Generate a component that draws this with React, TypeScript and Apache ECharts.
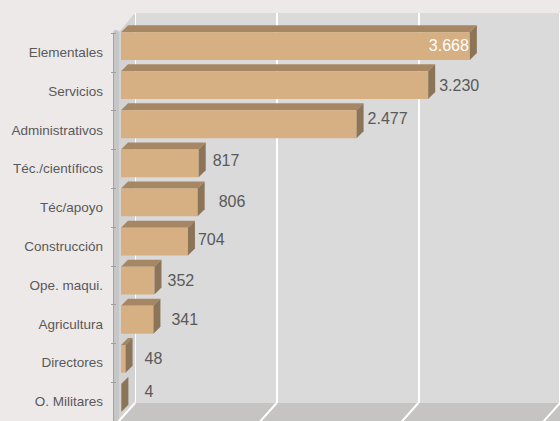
import React, { useEffect, useRef } from "react";
import * as echarts from "echarts";

const categories = [
  "Elementales",
  "Servicios",
  "Administrativos",
  "Téc./científicos",
  "Téc/apoyo",
  "Construcción",
  "Ope. maqui.",
  "Agricultura",
  "Directores",
  "O. Militares",
];
const values = [3668, 3230, 2477, 817, 806, 704, 352, 341, 48, 4];
const axisMin = 0;
const axisMax = 4500;
const axisStep = 1500;
const gridTicks = [0, 1500, 3000, 4500];

// manual label nudges (layout only), [dx, dy] in px
const labelNudge: [number, number][] = [
  [0, -1], [0, 0], [0, -6], [3, -3], [10, -1], [-1, -2], [2, 0], [7, 0], [8, 0], [12, -6],
];

const FONT = "'Liberation Sans', Arial, sans-serif";
const TEXT = "#595959";

// layout
const BACK_LEFT = 135;
const BACK_TOP = 13;
const PLOT_H = 390;
const PLOT_W = 428;
const DEPTH_X = 17;
const DEPTH_Y = 19;
const BAR_D = 7;

function fmt(v: number) {
  return String(v).replace(/\B(?=(\d{3})+(?!\d))/g, ".");
}

export default function App() {
  const ref = useRef<HTMLDivElement>(null);
  useEffect(() => {
    document.body.style.margin = "0";
    const chart = echarts.init(ref.current!, null, { renderer: "svg" });
    const maxVal = Math.max(...values);
    const option: any = {
      animation: false,
      backgroundColor: "#EDE9E9",
      grid: [
        { left: BACK_LEFT, top: BACK_TOP, width: PLOT_W, height: PLOT_H, show: true, backgroundColor: "#DADADA", borderWidth: 0 },
        { left: BACK_LEFT - DEPTH_X - 2, top: BACK_TOP + DEPTH_Y + 1, width: PLOT_W, height: PLOT_H },
        { left: 121, top: 26.5, width: PLOT_W, height: 391 },
      ],
      xAxis: [0, 1, 2].map((i) => ({
        type: "value",
        gridIndex: i,
        min: axisMin,
        max: axisMax,
        interval: axisStep,
        axisLabel: { show: false },
        axisLine: { show: false },
        axisTick: { show: false },
        splitLine: i === 0 ? { show: true, lineStyle: { color: "#FFFFFF", width: 2 } } : { show: false },
      })),
      yAxis: [
        { type: "category", gridIndex: 0, data: categories, inverse: true, show: false },
        {
          type: "category",
          gridIndex: 1,
          data: categories,
          inverse: true,
          axisLine: { show: true, lineStyle: { color: "#C6C6C6", width: 6 } },
          axisTick: { show: true, length: 5, lineStyle: { color: "#A0A0A0", width: 1 } },
          axisLabel: { color: TEXT, fontSize: 13.5, fontFamily: FONT, margin: 13, padding: [8, 0, 0, 0] },
          splitLine: { show: false },
        },
        { type: "category", gridIndex: 2, data: categories, inverse: true, show: false },
      ],
      series: [
        {
          type: "custom",
          xAxisIndex: 2,
          yAxisIndex: 2,
          z: 5,
          data: values.map((v, i) => [v, i]),
          encode: { x: 0, y: 1 },
          renderItem: (params: any, api: any) => {
            const v = api.value(0);
            const c = api.value(1);
            const idx = params.dataIndex;
            const s = api.coord([0, c]);
            const e = api.coord([v, c]);
            const h = api.size([0, 1])[1] * 0.71;
            const x0 = s[0];
            const x1 = e[0];
            const yT = s[1] - h / 2;
            const yB = s[1] + h / 2;
            const d = BAR_D;
            const inside = v === maxVal;
            const nd = labelNudge[idx] || [0, 0];
            const children: any[] = [
              {
                type: "polygon",
                shape: { points: [[x0, yT], [x0 + d, yT - d], [x1 + d, yT - d], [x1, yT]] },
                style: { fill: "#A68764" },
              },
              {
                type: "rect",
                shape: { x: x0, y: yT, width: Math.max(x1 - x0, 0.5), height: h },
                style: { fill: "#D6AF82" },
              },
              {
                type: "polygon",
                shape: { points: [[x1, yT], [x1 + d, yT - d], [x1 + d, yB - d], [x1, yB]] },
                style: { fill: "#8C7458" },
              },
              {
                type: "text",
                x: inside ? x1 - 1 + nd[0] : x1 + d + 4 + nd[0],
                y: s[1] + nd[1],
                style: {
                  text: fmt(v),
                  fill: inside ? "#FFFFFF" : TEXT,
                  font: `16px ${FONT}`,
                  align: inside ? "right" : "left",
                  verticalAlign: "middle",
                },
              },
            ];
            return { type: "group", children };
          },
        },
      ],
    };
    chart.setOption(option);

    // floor, left wall and floor grid lines derived from the back grid
    const bottom = BACK_TOP + PLOT_H;
    const front = bottom + DEPTH_Y;
    const rightX = BACK_LEFT + PLOT_W;
    const floorLines = gridTicks.map((t) => {
      const bx = chart.convertToPixel({ xAxisIndex: 0 }, t) as number;
      return {
        type: "line",
        z: 1,
        shape: { x1: bx, y1: bottom, x2: bx - DEPTH_X, y2: front },
        style: { stroke: "#FFFFFF", lineWidth: 2 },
      };
    });
    chart.setOption({
      graphic: [
        {
          type: "polygon",
          z: 0,
          shape: {
            points: [
              [BACK_LEFT - DEPTH_X, BACK_TOP + DEPTH_Y + 1],
              [BACK_LEFT, BACK_TOP],
              [BACK_LEFT, bottom],
              [BACK_LEFT - DEPTH_X, front],
            ],
          },
          style: { fill: "#D3D3D3" },
        },
        {
          type: "polygon",
          z: 0,
          shape: {
            points: [
              [BACK_LEFT, bottom],
              [rightX + 20, bottom],
              [rightX + 20 - DEPTH_X, front],
              [BACK_LEFT - DEPTH_X, front],
            ],
          },
          style: { fill: "#C6C4C2" },
        },
        ...floorLines,
        {
          type: "line",
          z: 3,
          shape: { x1: 113.5, y1: BACK_TOP + DEPTH_Y + 1, x2: 113.5, y2: 421 },
          style: { stroke: "#A3A3A3", lineWidth: 1 },
        },
      ],
    });
    return () => chart.dispose();
  }, []);
  return <div ref={ref} style={{ width: 560, height: 421, position: "fixed", left: 0, top: 0 }} />;
}
